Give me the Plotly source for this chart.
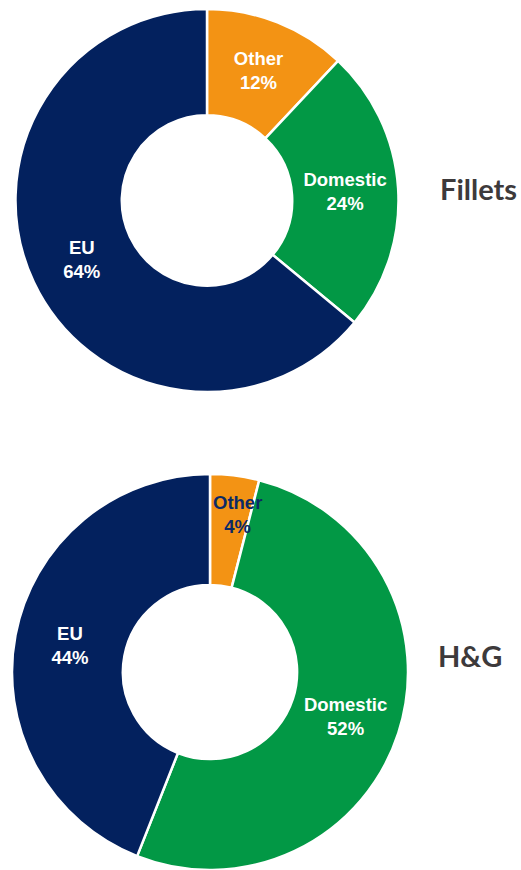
import math
import plotly.graph_objects as go

W, H = 521, 870

labels = ["Other", "Domestic", "EU"]
fillets_values = [12, 24, 64]
hg_values = [4, 52, 44]
chart_titles = ["Fillets", "H&G"]

colors = ["#F39314", "#029845", "#03215E"]

# pixel geometry (center x, center y, radius)
top_geo = (207, 200.5, 191.5)
bot_geo = (210, 672, 198)


def domain(cx, cy, r):
    return dict(x=[max(0, (cx - r) / W), min(1, (cx + r) / W)],
                y=[max(0, 1 - (cy + r) / H), min(1, 1 - (cy - r) / H)])


fig = go.Figure()

tmpl = "<b>%{label}<br>%{percent:.0%}</b>"

fig.add_trace(go.Pie(
    labels=labels, values=fillets_values, sort=False, direction="clockwise",
    rotation=0, hole=0.445, domain=domain(*top_geo),
    marker=dict(colors=colors, line=dict(color="white", width=2.5)),
    texttemplate=tmpl, textposition="inside", insidetextorientation="horizontal",
    textfont=dict(family="Liberation Sans, Arial", size=18.5, color="white"),
    hoverinfo="label+percent", showlegend=False,
))

# small slice label handled by annotation
hg_tmpl = [("" if v / sum(hg_values) < 0.08 else tmpl) for v in hg_values]
fig.add_trace(go.Pie(
    labels=labels, values=hg_values, sort=False, direction="clockwise",
    rotation=0, hole=0.44, domain=domain(*bot_geo),
    marker=dict(colors=colors, line=dict(color="white", width=2.5)),
    texttemplate=hg_tmpl, textposition="inside", insidetextorientation="horizontal",
    textfont=dict(family="Liberation Sans, Arial", size=18.5, color="white"),
    hoverinfo="label+percent", showlegend=False,
))

annotations = []
# label for the small slice in bottom donut
tot = sum(hg_values)
cum = 0
cx, cy, r = bot_geo
for lab, v in zip(labels, hg_values):
    frac = v / tot
    if frac < 0.08:
        ang = 2 * math.pi * (cum + frac / 2)
        rr = r * 0.8
        px = cx + rr * math.sin(ang)
        py = cy - rr * math.cos(ang)
        annotations.append(dict(
            x=px / W, y=1 - py / H, xref="paper", yref="paper",
            text=f"<b>{lab}<br>{round(frac * 100)}%</b>", showarrow=False,
            xshift=8,
            font=dict(family="Liberation Sans, Arial", size=18.5, color="#0B2A66"),
        ))
    cum += frac

title_pos = [(478, 188), (470, 655)]
for t, (tx, ty) in zip(chart_titles, title_pos):
    annotations.append(dict(
        x=tx / W, y=1 - ty / H, xref="paper", yref="paper",
        text=f"<b>{t}</b>",
        showarrow=False, xanchor="center", yanchor="middle",
        font=dict(family="Lato", size=29, color="#3D3A3B"),
    ))

fig.update_layout(
    width=W, height=H, margin=dict(l=0, r=0, t=0, b=0),
    paper_bgcolor="white", plot_bgcolor="white",
    annotations=annotations,
)

fig.write_html(
    "out.html",
    config={"displayModeBar": False},
    post_script="document.body.style.margin='0';document.body.style.overflow='hidden';",
)
